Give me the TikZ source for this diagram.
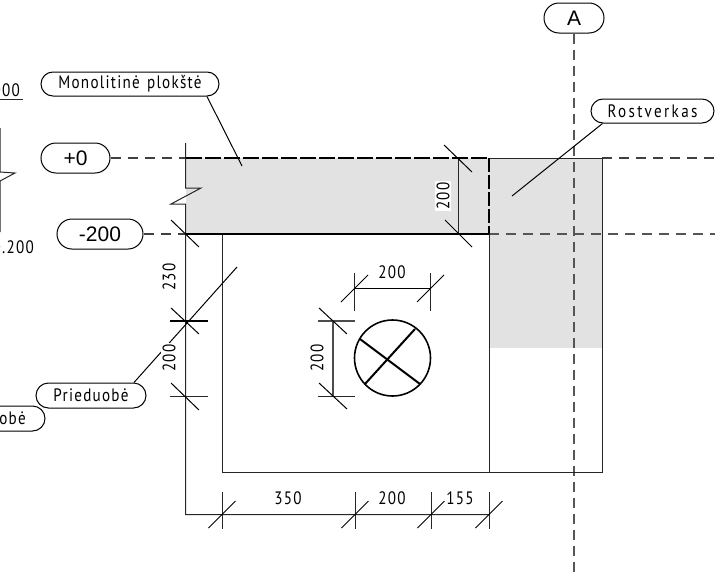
\documentclass[tikz,border=0pt]{standalone}
\usepackage{fontspec}
\setmainfont{PT Sans}[LetterSpace=7,FakeStretch=0.84]
\newfontfamily\arialf{Liberation Sans}
\newfontfamily\widef{PT Sans}[LetterSpace=13,FakeStretch=0.84]
\usetikzlibrary{shapes.misc}
\definecolor{slab}{HTML}{E2E2E2}
\definecolor{axisgray}{HTML}{555555}
\tikzset{
  x=1pt,y=-1pt,
  thinl/.style={line width=1pt,black!85},
  ticks/.style={line width=1pt,black},
  heavy/.style={line width=2pt,black},
  axisl/.style={line width=1.1pt,black!75,dash pattern=on 10pt off 7pt},
  axisv/.style={line width=1.2pt,axisgray,dash pattern=on 10pt off 6pt},
  bub/.style={draw,line width=1pt,rounded rectangle,fill=white,inner sep=0pt,font=\fontsize{18}{18}\selectfont},
  big/.style={bub,font=\arialf\fontsize{21}{21}\selectfont},
  dimlab/.style={fill=white,inner sep=1pt,font=\fontsize{18}{18}\selectfont},
}
\begin{document}
\begin{tikzpicture}
\useasboundingbox (0,0) rectangle (715,573);
\clip (0,0) rectangle (715,573);
% fills
\fill[slab] (186,158) rectangle (489,234);
\fill[slab] (489,158) rectangle (602,348);
% coordinates
\coordinate (zeroL) at (186,158);
\coordinate (zeroR) at (715,158);
\coordinate (mnusL) at (186,234);
\coordinate (mnusR) at (715,234);
\coordinate (axisEnd) at (574,573);
\coordinate (monoEnd) at (242,166);
\coordinate (rostEnd) at (512,196);
\coordinate (priedEnd) at (237,267);
% level and axis bubbles
\node[big,minimum width=69pt,minimum height=30pt] (zero) at (75.5,158) {+0};
\node[big,minimum width=86pt,minimum height=30pt] (mnus) at (100,234) {-200};
\node[big,minimum width=60pt,minimum height=30pt] (axisA) at (574,18) {A};
% dashed axes
\draw[axisl] (zero.east) -- (zeroL);
\draw[axisl] (mnus.east) -- (mnusL);
\draw[axisl] (602,158) -- (zeroR);
\draw[axisl,axisgray] (489,234) -- (mnusR);
\draw[axisv] (axisA.south) -- (axisEnd);
% outline
\draw[thinl] (185.5,143) -- (185.5,188) -- (201,188) -- (171,204) -- (185.5,204) -- (185.5,514.5) -- (489,514.5);
\draw[thinl] (222,234) -- (222,472) -- (602,472) -- (602,158) -- (489,158);
\draw[thinl] (489,234) -- (489,472);
\draw[heavy] (186,234) -- (489,234);
\draw[heavy,dash pattern=on 16pt off 3pt] (186,158) -- (489,158);
\draw[heavy,dash pattern=on 14pt off 3pt] (489,158) -- (489,234);
% partial left part
\draw[thinl] (0,128) -- (0,172) -- (15,173) -- (0,181) -- (0,232);
\draw[thinl] (0,99) -- (23,99);
\node[anchor=east,inner sep=0pt,font=\fontsize{18}{18}\selectfont] (lvA) at (20,90) {000};
\node[anchor=east,inner sep=0pt,font=\fontsize{18}{18}\selectfont] (lvB) at (34,247) {0.200};
% circle
\draw[heavy,line width=1.6pt] (392.5,358) circle (38);
\draw[heavy] (360,339) -- (420,384);
\draw[heavy] (415,329) -- (365,384);
% dimension: right 200
\draw[thinl] (458,158) -- (458,234);
\draw[ticks] (444,145) -- (472,172);
\draw[ticks] (445,220) -- (472,247);
% dimension: top 200
\draw[ticks] (354.5,288) -- (430.5,288);
\draw[thinl] (354.5,273) -- (354.5,311);
\draw[thinl] (430.5,273) -- (430.5,311);
\draw[ticks] (341,302) -- (368,275);
\draw[ticks] (417,302) -- (444,275);
% dimension: left 200
\draw[line width=1.3pt,black!70] (333,321) -- (333,396);
\draw[line width=1.3pt,black!70] (318,321) -- (355,321);
\draw[thinl] (318,396) -- (355,396);
\draw[ticks] (319,308) -- (347,334);
\draw[ticks] (319,383) -- (347,409);
% side dims
\draw[ticks] (171,220) -- (199,247);
\draw[heavy,line width=1.5pt] (170,321) -- (208,321);
\draw[ticks] (171,308) -- (199,334);
\draw[thinl] (170,396) -- (208,396);
\draw[ticks] (171,383) -- (199,410);
% bottom dims
\foreach \x in {222,355,431,489}{
  \draw[thinl] (\x,492) -- (\x,529);
  \draw[ticks] (\x-13.5,528) -- (\x+13.5,501);
}
% lower bubble and labelled bubbles
\node[bub,minimum width=85pt,minimum height=25pt] (lowb) at (2.5,418.5) {\hspace*{20pt}obė};
\node[bub,minimum width=110pt,minimum height=25pt] (pried) at (91,395.5) {Prieduobė};
\node[bub,minimum width=178pt,minimum height=24pt] (mono) at (130,84) {Monolitinė\hspace{2pt} plokštė};
\node[bub,minimum width=123pt,minimum height=24pt] (rost) at (652.5,111) {\widef Rostverkas};
\draw[ticks] (mono.south) ++(77,0) coordinate (monoS) (monoS) -- (monoEnd);
\draw[ticks] (rost.south) ++(-50,0) coordinate (rostS) (rostS) -- (rostEnd);
\draw[ticks] (pried.north) ++(43,0) coordinate (priedN) (priedN) -- (priedEnd);
% dim labels
\node[dimlab,rotate=90] (d1) at (443,196) {200};
\node[dimlab] (d2) at (392,272) {200};
\node[dimlab,rotate=90] (d3) at (317,358) {200};
\node[dimlab,rotate=90] (d4) at (169,277) {230};
\node[dimlab,rotate=90] (d5) at (169,358) {200};
\node[dimlab] (d6) at (288,498) {350};
\node[dimlab] (d7) at (392,498) {200};
\node[dimlab] (d8) at (460,498) {155};
\end{tikzpicture}
\end{document}
